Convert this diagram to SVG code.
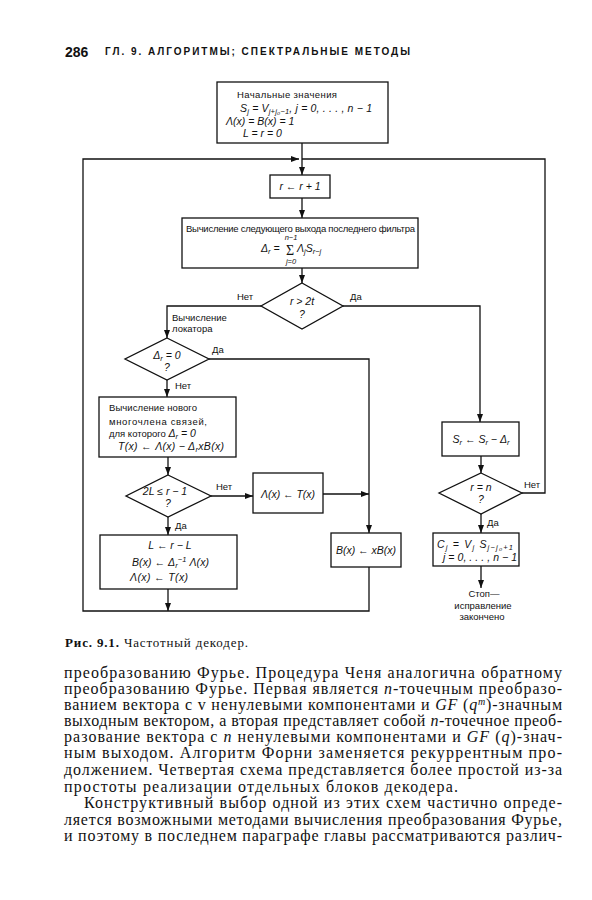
<svg xmlns="http://www.w3.org/2000/svg" width="592" height="900" viewBox="0 0 592 900">
<style>
.bx{fill:#fff;stroke:#111;stroke-width:1.3}
.cn{fill:none;stroke:#111;stroke-width:1.3}
.t{font-family:"Liberation Sans","DejaVu Sans",sans-serif;font-size:9.5px;fill:#111}
.m{font-family:"Liberation Sans","DejaVu Sans",sans-serif;font-size:10.5px;font-style:italic;fill:#111}
.c{text-anchor:middle}
.s{font-size:7.5px}
.b{font-family:"Liberation Serif","DejaVu Serif",serif;font-size:16px;fill:#111}
.i{font-style:italic}
</style>
<defs>
<marker id="ah" viewBox="0 0 8 6" refX="8" refY="3" markerWidth="8" markerHeight="6" markerUnits="userSpaceOnUse" orient="auto"><path d="M0,0 L8,3 L0,6 z" fill="#111"/></marker>
</defs>
<rect width="592" height="900" fill="#fff"/>

<g id="header">
<text x="65" y="57" font-family="Liberation Sans, sans-serif" font-weight="bold" font-size="14" fill="#111">286</text>
<text x="105" y="55" font-family="Liberation Sans, sans-serif" font-weight="bold" font-size="10" fill="#111" textLength="305" lengthAdjust="spacing">ГЛ. 9. АЛГОРИТМЫ; СПЕКТРАЛЬНЫЕ МЕТОДЫ</text>
</g>

<g id="connectors">
<path class="cn" d="M302,143 V175" marker-end="url(#ah)"/>
<path class="cn" d="M369,567 V611 H83 V159 H299" marker-end="url(#ah)"/>
<path class="cn" d="M522,493 H545 V159 H302"/>
<path class="cn" d="M302,198 V218" marker-end="url(#ah)"/>
<path class="cn" d="M302,268 V283" marker-end="url(#ah)"/>
<path class="cn" d="M261,306 H167 V338" marker-end="url(#ah)"/>
<path class="cn" d="M343,306 H480 V422" marker-end="url(#ah)"/>
<path class="cn" d="M209,359 H369 V533" marker-end="url(#ah)"/>
<path class="cn" d="M167,380 V397" marker-end="url(#ah)"/>
<path class="cn" d="M168,457 V475" marker-end="url(#ah)"/>
<path class="cn" d="M211,496 H253" marker-end="url(#ah)"/>
<path class="cn" d="M323,494 H369" marker-end="url(#ah)"/>
<path class="cn" d="M168,517 V535" marker-end="url(#ah)"/>
<path class="cn" d="M168,589 V611" marker-end="url(#ah)"/>
<path class="cn" d="M481,456 V473" marker-end="url(#ah)"/>
<path class="cn" d="M481,514 V533" marker-end="url(#ah)"/>
<path class="cn" d="M481,566 V588" marker-end="url(#ah)"/>
<text class="t" x="237" y="300">Нет</text>
<text class="t" x="350" y="300">Да</text>
<text class="t" x="172" y="321">Вычисление</text>
<text class="t" x="172" y="332">локатора</text>
<text class="t" x="212" y="353">Да</text>
<text class="t" x="175" y="389">Нет</text>
<text class="t" x="216" y="490">Нет</text>
<text class="t" x="175" y="529">Да</text>
<text class="t" x="524" y="488">Нет</text>
<text class="t" x="487" y="526">Да</text>
</g>

<g id="init">
<rect class="bx" x="217" y="82" width="171" height="61"/>
<text class="t" x="237" y="98" textLength="100" lengthAdjust="spacing">Начальные значения</text>
<text class="m" x="240" y="112" textLength="132" lengthAdjust="spacing">S<tspan class="s" dy="2">j</tspan><tspan dy="-2"> = V</tspan><tspan class="s" dy="2">j+j₀−1</tspan><tspan dy="-2">, j = 0, . . . , n − 1</tspan></text>
<text class="m" x="226" y="125">Λ(x) = B(x) = 1</text>
<text class="m" x="243" y="137">L = r = 0</text>
</g>

<g id="incr">
<rect class="bx" x="270" y="175" width="60" height="23"/>
<text class="m c" x="300" y="190">r ← r + 1</text>
</g>

<g id="compute">
<rect class="bx" x="182" y="218" width="236" height="50"/>
<text class="t" x="186" y="232" textLength="229" lengthAdjust="spacing">Вычисление следующего выхода последнего фильтра</text>
<text class="m" x="261" y="252">Δ<tspan class="s" dy="2">r</tspan><tspan dy="-2"> =</tspan></text>
<text x="286" y="255" font-family="Liberation Serif, serif" font-size="14" fill="#111">Σ</text>
<text class="m" x="297" y="252">Λ<tspan class="s" dy="2">j</tspan><tspan dy="-2">S</tspan><tspan class="s" dy="2">r−j</tspan></text>
<text class="m s c" x="291" y="240">n−1</text>
<text class="m s c" x="291" y="264">j=0</text>
</g>

<g id="d_r2t">
<polygon class="bx" points="302,283 343,306 302,329 261,306"/>
<text class="m c" x="302" y="305">r &gt; 2t</text>
<text class="m c" x="302" y="318">?</text>
</g>

<g id="d_delta0">
<polygon class="bx" points="167,338 209,359 167,380 125,359"/>
<text class="m c" x="167" y="359">Δ<tspan class="s" dy="2">r</tspan><tspan dy="-2"> = 0</tspan></text>
<text class="m c" x="167" y="371">?</text>
</g>

<g id="newpoly">
<rect class="bx" x="99" y="397" width="137" height="60"/>
<text class="t" x="109" y="411" textLength="88" lengthAdjust="spacing">Вычисление нового</text>
<text class="t" x="109" y="425" textLength="98" lengthAdjust="spacing">многочлена связей,</text>
<text class="t" x="109" y="437">для которого  <tspan class="m">Δ</tspan><tspan class="m s" dy="2">r</tspan><tspan class="m" dy="-2"> = 0</tspan></text>
<text class="m" x="118" y="450" textLength="106" lengthAdjust="spacing">T(x) ← Λ(x) − Δ<tspan class="s" dy="2">r</tspan><tspan dy="-2">xB(x)</tspan></text>
</g>

<g id="d_2L">
<polygon class="bx" points="168,475 211,496 168,517 126,496"/>
<text class="m c" x="165" y="495">2L ≤ r − 1</text>
<text class="m c" x="168" y="507">?</text>
</g>

<g id="lambda_t">
<rect class="bx" x="253" y="473" width="70" height="40"/>
<text class="m c" x="288" y="498">Λ(x) ← T(x)</text>
</g>

<g id="update">
<rect class="bx" x="100" y="535" width="137" height="54"/>
<text class="m c" x="170" y="549">L ← r − L</text>
<text class="m" x="132" y="566" textLength="77" lengthAdjust="spacing">B(x) ← Δ<tspan class="s" dy="2">r</tspan><tspan class="s" dy="-6">−1</tspan><tspan dy="4"> Λ(x)</tspan></text>
<text class="m" x="130" y="581" textLength="58" lengthAdjust="spacing">Λ(x) ← T(x)</text>
</g>

<g id="shiftB">
<rect class="bx" x="331" y="533" width="70" height="34"/>
<text class="m c" x="366" y="554">B(x) ← xB(x)</text>
</g>

<g id="sr">
<rect class="bx" x="442" y="422" width="77" height="34"/>
<text class="m c" x="481" y="443">S<tspan class="s" dy="2">r</tspan><tspan dy="-2"> ← S</tspan><tspan class="s" dy="2">r</tspan><tspan dy="-2"> − Δ</tspan><tspan class="s" dy="2">r</tspan></text>
</g>

<g id="d_rn">
<polygon class="bx" points="481,473 522,493 481,514 439,493"/>
<text class="m c" x="481" y="491">r = n</text>
<text class="m c" x="481" y="503">?</text>
</g>

<g id="cj">
<rect class="bx" x="433" y="533" width="86" height="33"/>
<text class="m" x="437" y="548" textLength="76" lengthAdjust="spacing">C<tspan class="s" dy="2">j</tspan><tspan dy="-2"> = V</tspan><tspan class="s" dy="2">j</tspan><tspan dy="-2">  S</tspan><tspan class="s" dy="2">j−j₀+1</tspan></text>
<text class="m" x="443" y="561" textLength="74" lengthAdjust="spacing">j = 0, . . . , n − 1</text>
</g>

<g id="stop">
<text class="t c" x="484" y="597">Стоп—</text>
<text class="t c" x="483" y="609">исправление</text>
<text class="t c" x="482" y="620">закончено</text>
</g>

<g id="caption">
<text x="65" y="647" font-family="Liberation Serif, serif" font-size="13" fill="#111" textLength="183" lengthAdjust="spacing"><tspan font-weight="bold">Рис. 9.1.</tspan> Частотный декодер.</text>
</g>

<g id="body">
<text class="b" x="64" y="678" textLength="498" lengthAdjust="spacing">преобразованию Фурье. Процедура Ченя аналогична обратному</text>
<text class="b" x="64" y="694" textLength="498" lengthAdjust="spacing">преобразованию Фурье. Первая является <tspan class="i">n</tspan>-точечным преобразо-</text>
<text class="b" x="64" y="710" textLength="498" lengthAdjust="spacing">ванием вектора с v ненулевыми компонентами и <tspan class="i">GF</tspan> (<tspan class="i">q</tspan><tspan class="i" font-size="10" dy="-5">m</tspan><tspan dy="5">)-значным</tspan></text>
<text class="b" x="64" y="726" textLength="498" lengthAdjust="spacing">выходным вектором, а вторая представляет собой <tspan class="i">n</tspan>-точечное преоб-</text>
<text class="b" x="64" y="742" textLength="498" lengthAdjust="spacing">разование вектора с <tspan class="i">n</tspan> ненулевыми компонентами и <tspan class="i">GF</tspan> (<tspan class="i">q</tspan>)-знач-</text>
<text class="b" x="64" y="758" textLength="498" lengthAdjust="spacing">ным выходом. Алгоритм Форни заменяется рекуррентным про-</text>
<text class="b" x="64" y="775" textLength="498" lengthAdjust="spacing">должением. Четвертая схема представляется более простой из-за</text>
<text class="b" x="64" y="792" textLength="394" lengthAdjust="spacing">простоты реализации отдельных блоков декодера.</text>
<text class="b" x="84" y="808" textLength="478" lengthAdjust="spacing">Конструктивный выбор одной из этих схем частично опреде-</text>
<text class="b" x="64" y="825" textLength="498" lengthAdjust="spacing">ляется возможными методами вычисления преобразования Фурье,</text>
<text class="b" x="64" y="841" textLength="498" lengthAdjust="spacing">и поэтому в последнем параграфе главы рассматриваются различ-</text>
</g>
</svg>
